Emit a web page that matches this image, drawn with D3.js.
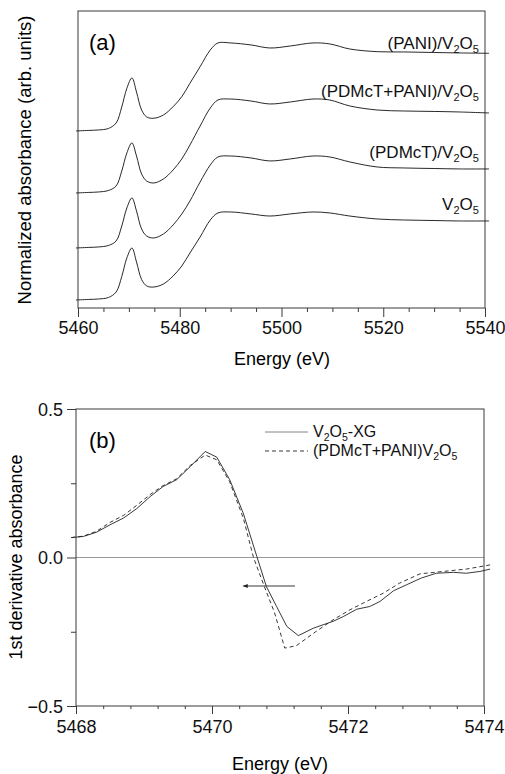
<!DOCTYPE html>
<html>
<head>
<meta charset="utf-8">
<script src="https://cdn.jsdelivr.net/npm/d3@7"></script>
<style>
  body { margin: 0; background: #fff; }
  svg { display: block; font-family: "Liberation Sans", Arial, Helvetica, sans-serif; }
</style>
</head>
<body>
<script>
// ---- panel (a): normalized XANES spectra, stacked ----
let energyA = [5459.6, 5462, 5464, 5466, 5467.5, 5468.6, 5469.6, 5470.6, 5471.5, 5472.5, 5473.5,
  5474.9, 5476.8, 5478.7, 5480.4, 5482, 5484, 5486, 5487.5, 5490, 5494, 5497.7, 5501.7,
  5506.2, 5509.5, 5513.4, 5518.8, 5524, 5530, 5535, 5540.8]

let absV2O5 = [0, 0.006, 0.011, 0.028, 0.089, 0.261, 0.467, 0.578, 0.422, 0.228, 0.156, 0.144, 0.178,
  0.267, 0.378, 0.522, 0.7, 0.889, 0.967, 0.978, 0.956, 0.933, 0.956, 0.978, 0.967, 0.933, 0.9,
  0.889, 0.883, 0.878, 0.878]
let absPDMcT = [0, 0.006, 0.011, 0.028, 0.078, 0.244, 0.444, 0.556, 0.411, 0.211, 0.133, 0.111, 0.156,
  0.256, 0.378, 0.522, 0.733, 0.922, 1.011, 1.022, 1.0, 0.967, 0.989, 1.022, 1.011, 0.956, 0.9,
  0.889, 0.883, 0.878, 0.878]
let absPDMcTPANI = [0, 0.006, 0.011, 0.028, 0.078, 0.244, 0.444, 0.556, 0.411, 0.211, 0.133, 0.111, 0.156,
  0.256, 0.378, 0.533, 0.744, 0.944, 1.033, 1.044, 1.022, 0.989, 1.011, 1.044, 1.033, 0.967, 0.922,
  0.911, 0.906, 0.9, 0.889]
let absPANI = [0, 0.006, 0.011, 0.028, 0.089, 0.267, 0.474, 0.589, 0.433, 0.233, 0.156, 0.141, 0.178,
  0.27, 0.381, 0.53, 0.714, 0.9, 0.978, 0.978, 0.956, 0.922, 0.944, 0.978, 0.967, 0.911, 0.881,
  0.878, 0.872, 0.867, 0.863]

// vertical offsets used to stack the spectra (arb. units)
let offsetsA = [0.089, 0.667, 1.278, 1.967]
// label baselines (arb. units)
let labelYA = [1.089, 1.667, 2.344, 2.878]
let labelsA = [
  [["V", 0], ["2", 1], ["O", 0], ["5", 1]],
  [["(PDMcT)/V", 0], ["2", 1], ["O", 0], ["5", 1]],
  [["(PDMcT+PANI)/V", 0], ["2", 1], ["O", 0], ["5", 1]],
  [["(PANI)/V", 0], ["2", 1], ["O", 0], ["5", 1]]
]
let ticksA = d3.range(5460, 5541, 5)

// ---- panel (b): first derivative ----
let energyXG = [5467.93, 5468.11, 5468.30, 5468.50, 5468.70, 5468.89, 5469.09, 5469.28, 5469.48, 5469.68,
  5469.90, 5470.07, 5470.26, 5470.46, 5470.66, 5470.80, 5470.95, 5471.10, 5471.27, 5471.49, 5471.78,
  5471.93, 5472.13, 5472.32, 5472.47, 5472.67, 5472.86, 5473.08, 5473.30, 5473.55, 5473.74, 5473.94, 5474.09]
let derivXG = [0.067, 0.071, 0.085, 0.11, 0.133, 0.164, 0.205, 0.239, 0.262, 0.306,
  0.357, 0.338, 0.262, 0.149, 0.003, -0.098, -0.165, -0.232, -0.263, -0.238, -0.215,
  -0.199, -0.174, -0.165, -0.148, -0.112, -0.092, -0.069, -0.053, -0.05, -0.053, -0.047, -0.039]

let energyMix = [5467.93, 5468.11, 5468.30, 5468.50, 5468.70, 5468.89, 5469.09, 5469.28, 5469.48, 5469.68,
  5469.90, 5470.07, 5470.26, 5470.46, 5470.61, 5470.77, 5470.92, 5471.07, 5471.24, 5471.53, 5471.78,
  5472.03, 5472.27, 5472.52, 5472.76, 5473.06, 5473.40, 5473.74, 5474.09]
let derivMix = [0.067, 0.072, 0.088, 0.118, 0.142, 0.175, 0.212, 0.242, 0.265, 0.31,
  0.345, 0.329, 0.255, 0.133, 0.0, -0.098, -0.186, -0.305, -0.297, -0.249, -0.21,
  -0.176, -0.148, -0.12, -0.086, -0.055, -0.047, -0.039, -0.025]

let ticksBX = d3.range(0, 16).map(i => 5468 + i * 0.4)
let ticksBY = [-0.5, -0.25, 0, 0.25, 0.5]

let svg = d3.select('body').append('svg')
  .attr('width', 505)
  .attr('height', 774)

let frameColor = '#3a3a3a'

// text with sub-scripted pieces: parts = [[string, isSub], ...]
function subText(t, parts, size, subSize) {
  let low = 0
  parts.forEach(([s, sub]) => {
    t.append('tspan')
      .attr('dy', sub === low ? 0 : (sub ? 4 : -4))
      .style('font-size', (sub ? subSize : size) + 'px')
      .text(s)
    low = sub
  })
}

/* ---------- panel (a) ---------- */
let xA = d3.scaleLinear().domain([5460, 5540]).range([78, 485])
let yA = d3.scaleLinear().domain([0, 3.3]).range([308, 11])

svg.append('rect')
  .attr('x', 78).attr('y', 11)
  .attr('width', 407).attr('height', 297)
  .style('fill', 'none').style('stroke', frameColor).style('stroke-width', 1)

let lineA = d3.line().curve(d3.curveCatmullRom.alpha(0.5))
let seriesA = [absV2O5, absPDMcT, absPDMcTPANI, absPANI]
seriesA.forEach((vals, i) => {
  svg.append('path')
    .attr('d', lineA(energyA.map((e, k) => [xA(e), yA(vals[k] + offsetsA[i])])))
    .style('fill', 'none').style('stroke', '#111').style('stroke-width', 0.9)
})

labelsA.forEach((parts, i) => {
  let t = svg.append('text')
    .attr('x', xA(5538.8)).attr('y', yA(labelYA[i]))
    .attr('text-anchor', 'end')
    .style('fill', '#111')
  subText(t, parts, 17, 11)
})

svg.append('text')
  .attr('x', 89).attr('y', 50)
  .style('font-size', '22px')
  .text('(a)')

let axA = svg.append('g')
  .attr('transform', 'translate(0,308)')
  .call(d3.axisBottom(xA).tickValues(ticksA).tickSizeInner(4).tickSizeOuter(0)
    .tickFormat(d => d % 20 === 0 ? d : ''))
axA.select('.domain').remove()
axA.selectAll('.tick line').attr('y2', d => d % 20 === 0 ? 9 : 4).style('stroke', frameColor)
axA.selectAll('.tick text').attr('y', 26).attr('dy', 0)
  .style('font-size', '18px').style('font-family', 'Liberation Sans, Arial, sans-serif').style('fill', '#111')

svg.append('text')
  .attr('x', 282).attr('y', 365)
  .attr('text-anchor', 'middle')
  .style('font-size', '18px')
  .text('Energy (eV)')

svg.append('text')
  .attr('transform', 'translate(31,160) rotate(-90)')
  .attr('text-anchor', 'middle')
  .style('font-size', '18.5px')
  .text('Normalized absorbance (arb. units)')

/* ---------- panel (b) ---------- */
let xB = d3.scaleLinear().domain([5468, 5474]).range([76, 484])
let yB = d3.scaleLinear().domain([-0.5, 0.5]).range([706, 409])

// zero line
svg.append('line')
  .attr('x1', xB(5468)).attr('x2', xB(5474))
  .attr('y1', yB(0)).attr('y2', yB(0))
  .style('stroke', '#999').style('stroke-width', 1)

svg.append('rect')
  .attr('x', 76).attr('y', 409)
  .attr('width', 408).attr('height', 297)
  .style('fill', 'none').style('stroke', frameColor).style('stroke-width', 1)

let lineB = d3.line()
svg.append('path')
  .attr('d', lineB(energyXG.map((e, k) => [xB(e), yB(derivXG[k])])))
  .style('fill', 'none').style('stroke', '#222').style('stroke-width', 0.9)
svg.append('path')
  .attr('d', lineB(energyMix.map((e, k) => [xB(e), yB(derivMix[k])])))
  .style('fill', 'none').style('stroke', '#222').style('stroke-width', 0.9)
  .style('stroke-dasharray', '4,3')

// arrow showing the edge shift
svg.append('defs').append('marker')
  .attr('id', 'head')
  .attr('viewBox', '0 0 10 10')
  .attr('refX', 9).attr('refY', 5)
  .attr('markerWidth', 7).attr('markerHeight', 5)
  .attr('markerUnits', 'userSpaceOnUse')
  .attr('orient', 'auto')
  .append('path').attr('d', 'M0,1 L10,5 L0,9 Z').style('fill', '#222')
svg.append('line')
  .attr('x1', xB(5471.22)).attr('x2', xB(5470.46))
  .attr('y1', yB(-0.096)).attr('y2', yB(-0.096))
  .style('stroke', '#222').style('stroke-width', 0.9)
  .attr('marker-end', 'url(#head)')

svg.append('text')
  .attr('x', 89).attr('y', 448)
  .style('font-size', '22px')
  .text('(b)')

// legend
let legend = [
  {dash: null, parts: [['V', 0], ['2', 1], ['O', 0], ['5', 1], ['-XG', 0]]},
  {dash: '4,3', parts: [['(PDMcT+PANI)V', 0], ['2', 1], ['O', 0], ['5', 1]]}
]
legend.forEach((l, i) => {
  let ly = 432 + i * 19
  svg.append('line')
    .attr('x1', 265).attr('x2', 308).attr('y1', ly).attr('y2', ly)
    .style('stroke', l.dash ? '#222' : '#777').style('stroke-width', 0.9)
    .style('stroke-dasharray', l.dash)
  let t = svg.append('text')
    .attr('x', 313).attr('y', ly + 5)
    .style('fill', '#111')
  subText(t, l.parts, 16, 10.5)
})

let axBX = svg.append('g')
  .attr('transform', 'translate(0,706)')
  .call(d3.axisBottom(xB).tickValues(ticksBX).tickSizeInner(3).tickSizeOuter(0)
    .tickFormat(d => Math.abs(d / 2 - Math.round(d / 2)) < 1e-6 ? d3.format('d')(d) : ''))
axBX.select('.domain').remove()
axBX.selectAll('.tick line')
  .attr('y2', d => Math.abs(d / 2 - Math.round(d / 2)) < 1e-6 ? 8 : 3)
  .style('stroke', frameColor)
axBX.selectAll('.tick text').attr('y', 27).attr('dy', 0)
  .style('font-size', '18px').style('font-family', 'Liberation Sans, Arial, sans-serif').style('fill', '#111')

let axBY = svg.append('g')
  .attr('transform', 'translate(76,0)')
  .call(d3.axisLeft(yB).tickValues(ticksBY).tickSizeInner(5).tickSizeOuter(0)
    .tickFormat(d => d === 0.25 || d === -0.25 ? '' : d3.format('.1f')(d)))
axBY.select('.domain').remove()
axBY.selectAll('.tick line')
  .attr('x2', d => (d === 0.25 || d === -0.25) ? -5 : -9)
  .style('stroke', frameColor)
axBY.selectAll('.tick text').attr('x', -13).attr('dy', '0.36em')
  .style('font-size', '18px').style('font-family', 'Liberation Sans, Arial, sans-serif').style('fill', '#111')

svg.append('text')
  .attr('x', 280).attr('y', 770)
  .attr('text-anchor', 'middle')
  .style('font-size', '18px')
  .text('Energy (eV)')

svg.append('text')
  .attr('transform', 'translate(22,557) rotate(-90)')
  .attr('text-anchor', 'middle')
  .style('font-size', '18px')
  .text('1st derivative absorbance')
</script>
</body>
</html>
